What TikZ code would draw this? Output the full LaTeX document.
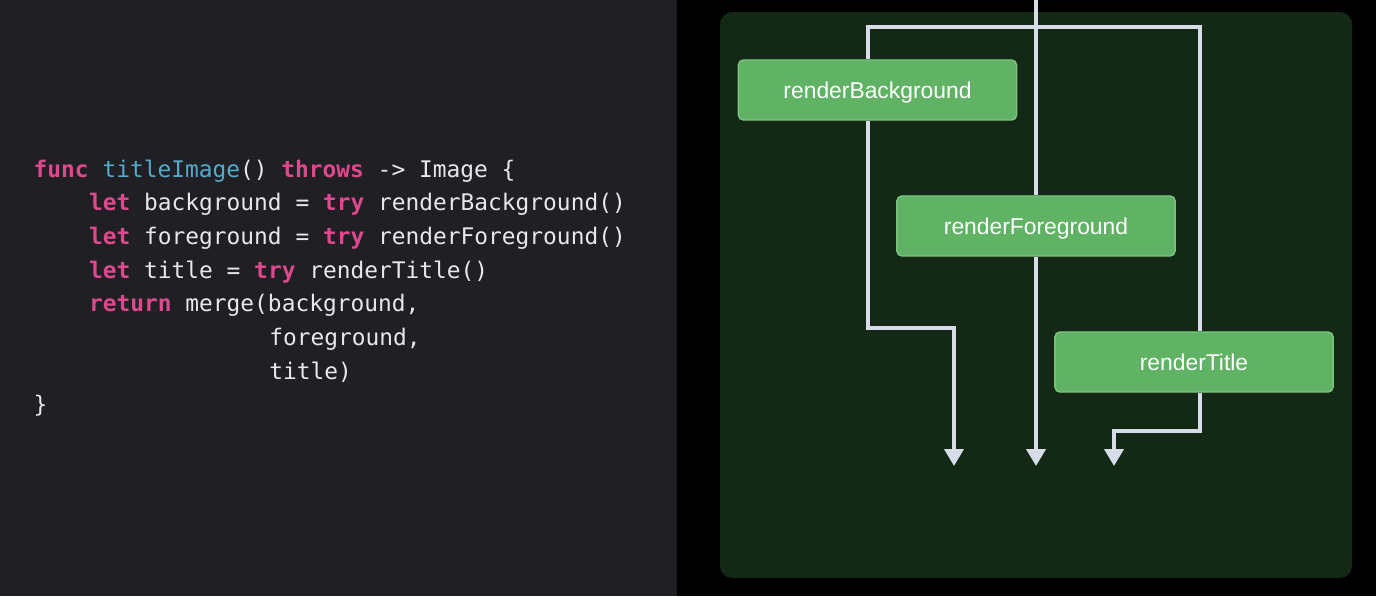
\documentclass[tikz,border=0pt]{standalone}
\usepackage{fontspec}
\setmainfont{Liberation Sans}
\setmonofont{DejaVu Sans Mono}
\usetikzlibrary{arrows.meta, positioning, calc, backgrounds}

\definecolor{codebg}{RGB}{31,31,36}
\definecolor{codetext}{RGB}{232,232,234}
\definecolor{kwpink}{RGB}{222,72,140}
\definecolor{fnblue}{RGB}{84,172,204}
\definecolor{panelgreen}{RGB}{19,40,21}
\definecolor{taskgreen}{RGB}{96,178,100}
\definecolor{taskedge}{RGB}{124,196,128}
\definecolor{flowgray}{RGB}{214,221,232}

\newcommand{\kw}[1]{\textcolor{kwpink}{\textbf{#1}}}
\newcommand{\fn}[1]{\textcolor{fnblue}{#1}}

\begin{document}
\begin{tikzpicture}[
    x=0.01cm, y=-0.01cm,
    code/.style={anchor=base west, inner sep=0pt, text=codetext, font=\ttfamily\fontsize{6.5}{9.6}\selectfont},
    task/.style={rectangle, rounded corners=1.4pt, draw=taskedge, line width=0.4pt, fill=taskgreen, text=white, minimum width=2.78cm, minimum height=0.6cm, text depth=0pt, font=\fontsize{6.5}{8}\selectfont},
    flow/.style={draw=flowgray, line width=1.1pt},
    arrow/.style={flow, -{Triangle[length=0.17cm, width=0.19cm]}}
]
\useasboundingbox (0,0) rectangle (1376,596);

% --- Code ---
\node[code] (l1) at (33,177)    {\kw{func} \fn{titleImage}() \kw{throws} -> Image \{};
\node[code] (l2) at (88.4,210.7) {\kw{let} background = \kw{try} renderBackground()};
\node[code] (l3) at (88.4,244.4) {\kw{let} foreground = \kw{try} renderForeground()};
\node[code] (l4) at (88.4,278.1) {\kw{let} title = \kw{try} renderTitle()};
\node[code] (l5) at (88.4,311.8) {\kw{return} merge(background,};
\node[code] (l6) at (268.6,345.5) {foreground,};
\node[code] (l7) at (268.6,379.2) {title)};
\node[code] (l8) at (33,412.9)  {\}};

% --- Tasks ---
\node[task] (bg) at (877.5,90) {renderBackground};
\node[task] (fg) at (1036,226) {renderForeground};
\node[task] (tt) at (1194,362) {renderTitle};

\coordinate (src)   at (1036,0);
\coordinate (split) at (1036,27);
\coordinate (outBg) at (954,466);
\coordinate (outFg) at (1036,466);
\coordinate (outTt) at (1114,466);

\begin{scope}[on background layer]
    \fill[black] (0,0) rectangle (1376,596);
    \fill[codebg] (0,0) rectangle (677,596);
    \fill[panelgreen, rounded corners=3.4pt] (720,12) rectangle (1352,578);

    % main line and fork
    \draw[flow] (src) -- (fg.north);
    \draw[arrow] (fg.south) -- (outFg);
    \draw[flow] ([xshift=-0.095cm]bg.north) |- (split) -| ([xshift=0.06cm]tt.north);
    \draw[arrow] ([xshift=-0.095cm]bg.south) |- ($(outBg)+(0,-138)$) -- (outBg);
    \draw[arrow] ([xshift=0.06cm]tt.south) |- ($(outTt)+(0,-35)$) -- (outTt);
\end{scope}

\end{tikzpicture}
\end{document}
